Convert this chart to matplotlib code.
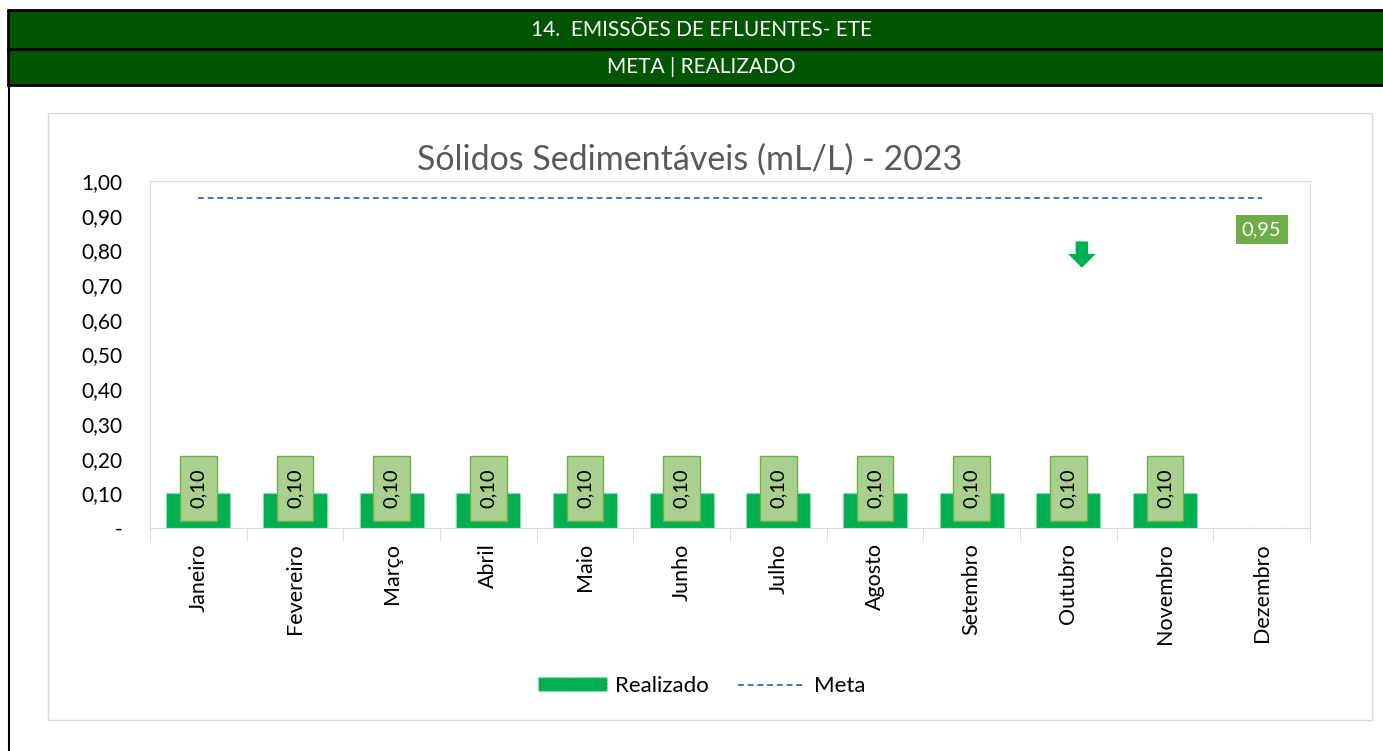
import matplotlib
matplotlib.use("Agg")
import matplotlib.pyplot as plt
from matplotlib.patches import Rectangle
from matplotlib.lines import Line2D
import numpy as np

months = ["Janeiro", "Fevereiro", "Março", "Abril", "Maio", "Junho", "Julho",
          "Agosto", "Setembro", "Outubro", "Novembro", "Dezembro"]
realizado = [0.10, 0.10, 0.10, 0.10, 0.10, 0.10, 0.10, 0.10, 0.10, 0.10, 0.10, None]
meta = [0.95] * 12
yticks = [0.0, 0.1, 0.2, 0.3, 0.4, 0.5, 0.6, 0.7, 0.8, 0.9, 1.0]
ytick_labels = ["-", "0,10", "0,20", "0,30", "0,40", "0,50", "0,60", "0,70",
                "0,80", "0,90", "1,00"]
header1 = "14.  EMISSÕES DE EFLUENTES- ETE"
header2 = "META | REALIZADO"
title = "Sólidos Sedimentáveis (mL/L) - 2023"

plt.rcParams['font.family'] = ['Lato', 'DejaVu Sans']

W, H = 1383, 751
fig = plt.figure(figsize=(W / 100, H / 100), dpi=100)

def px(x0, y0, x1, y1):
    return (x0 / W, 1 - y1 / H, (x1 - x0) / W, (y1 - y0) / H)

# header bars
green_dark = "#005500"
for (y0, y1, txt) in [(10, 49, header1), (49, 85, header2)]:
    l, b, w, h = px(8, y0, W + 2, y1)
    fig.patches.append(Rectangle((l, b), w, h, transform=fig.transFigure,
                                 facecolor=green_dark, edgecolor="black", lw=2, zorder=-1))
    fig.text(0.5 * (8 + W) / W + 0.004, 1 - (y0 + y1) / 2 / H, txt, color="white",
             ha="center", va="center", fontsize=15, zorder=5)
# left border line
fig.add_artist(Line2D([9 / W, 9 / W], [0, 1 - 10 / H], transform=fig.transFigure,
                      color="black", lw=1.5, zorder=-1))
# chart border
l, b, w, h = px(48, 113, 1372, 720)
fig.patches.append(Rectangle((l, b), w, h, transform=fig.transFigure,
                             facecolor="none", edgecolor="#D9D9D9", lw=1, zorder=-1))

ax = fig.add_axes(px(150, 181, 1310, 528))
ax.set_facecolor("none")
x = np.arange(len(months))
vals = [v if v is not None else 0 for v in realizado]
bars = ax.bar(x, vals, width=0.66, color="#00B050", edgecolor="#a8e6bd",
              linestyle=":", lw=0.8, zorder=2, label="Realizado")
for xi, v in zip(x, realizado):
    if v is None:
        continue
    ax.add_patch(Rectangle((xi - 0.19, v - 0.08), 0.38, 0.188, facecolor="#A9D08E",
                           edgecolor="#70AD47", lw=1, zorder=3))
    ax.text(xi, v + 0.014, f"{v:.2f}".replace(".", ","), rotation=90,
            ha="center", va="center", fontsize=14.5, color="black", zorder=4)

ax.plot(x, meta, color="#4472C4", ls=(0, (3, 2)), lw=1.4, zorder=3, label="Meta")
ax.text(x[-1], meta[-1] - 0.09, f"{meta[-1]:.2f}".replace(".", ","), ha="center",
        va="center", fontsize=14.5, color="white",
        bbox=dict(boxstyle="square,pad=0.3", facecolor="#70AD47", edgecolor="none"))
# arrow indicator
ax.annotate("", xy=(9.14, 0.75), xytext=(9.14, 0.826),
            arrowprops=dict(arrowstyle="simple,head_width=2.0,head_length=1.0,tail_width=0.9",
                            color="#00B050", lw=0, shrinkA=0, shrinkB=0))

ax.set_xlim(-0.5, len(months) - 0.5)
ax.set_ylim(0, 1.0)
ax.set_yticks(yticks)
ax.set_yticklabels(ytick_labels, fontsize=15)
ax.set_xticks(x)
ax.set_xticklabels(months, rotation=90, fontsize=15.5)
ax.set_xticks(np.arange(-0.5, len(months), 1), minor=True)
ax.tick_params(axis="x", which="major", length=0, pad=11)
ax.tick_params(axis="x", which="minor", length=9, color="#D9D9D9")
ax.tick_params(axis="y", length=0, pad=20)
for s in ax.spines.values():
    s.set_color("#D9D9D9")

fig.text(690 / W, 1 - 160 / H, title, ha="center", va="center", fontsize=24.5,
         color="#595959")

handles = [Rectangle((0, 0), 1, 1, facecolor="#00B050", edgecolor="#a8e6bd", ls=":"),
           Line2D([], [], color="#4472C4", ls=(0, (3, 2)), lw=1.4)]
fig.legend(handles, ["Realizado", "Meta"], loc="center", bbox_to_anchor=(702 / W, 1 - 686 / H),
           ncol=2, frameon=False, fontsize=16, handlelength=3.1, handleheight=0.55,
           columnspacing=1.3, handletextpad=0.35)

fig.savefig("out.png", dpi=100)
